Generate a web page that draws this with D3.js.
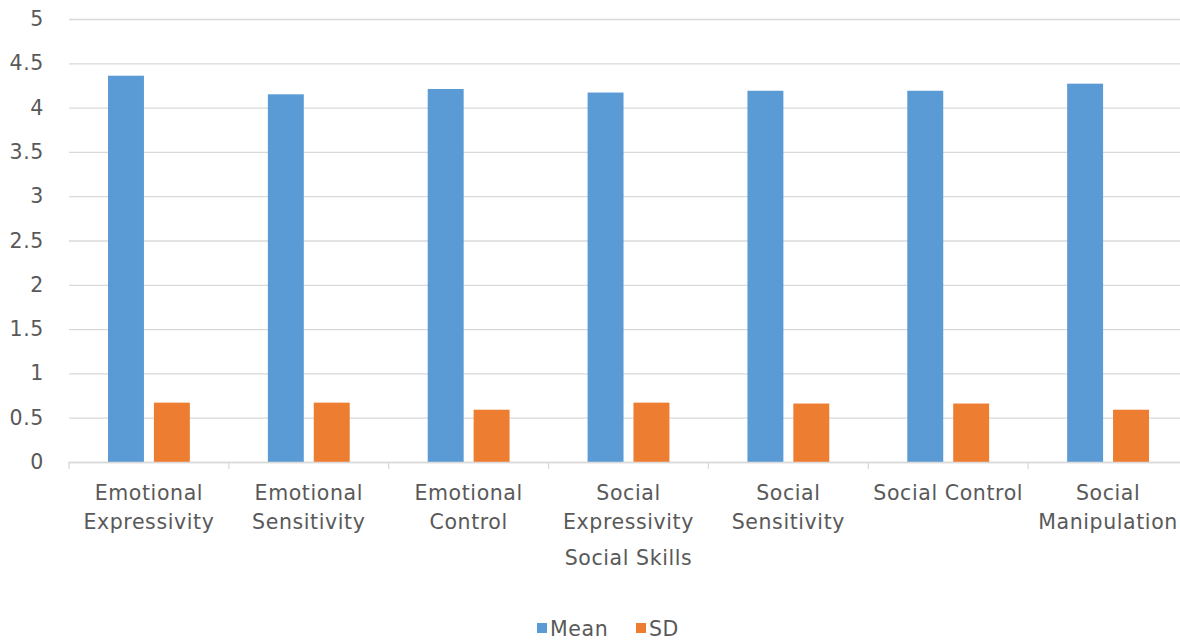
<!DOCTYPE html>
<html>
<head>
<meta charset="utf-8">
<script src="https://cdn.jsdelivr.net/npm/d3@7"></script>
<style>
  body { margin: 0; background: #fff; }
  svg text { font-family: "DejaVu Sans", Verdana, sans-serif; fill: #595959; letter-spacing: 0.6px; }
</style>
</head>
<body>
<svg id="chart"></svg>
<script>
// data
const categories = [
	["Emotional", "Expressivity"],
	["Emotional", "Sensitivity"],
	["Emotional", "Control"],
	["Social", "Expressivity"],
	["Social", "Sensitivity"],
	["Social Control"],
	["Social", "Manipulation"],
];
const meanValues = [4.36, 4.15, 4.21, 4.17, 4.19, 4.19, 4.27];
const sdValues = [0.67, 0.67, 0.59, 0.67, 0.66, 0.66, 0.59];
const seriesNames = ["Mean", "SD"];
const yTicks = [0, 0.5, 1, 1.5, 2, 2.5, 3, 3.5, 4, 4.5, 5];
const xTitle = "Social Skills";

const width = 1180;
const height = 641;
const colors = ["#5b9bd5", "#ed7d31"];
const fontSize = 20.5;

const svg = d3.select("#chart")
              .attr("width", width)
              .attr("height", height);

const plotLeft = 69;
const plotRight = 1188;
const plotTop = 19;
const plotBottom = 462;

const X = d3.range(categories.length);
const Z = d3.range(seriesNames.length);
const values = [meanValues, sdValues];

const xScale = d3.scaleBand(X, [plotLeft, plotRight]).paddingInner(0).paddingOuter(0);
const xzScale = d3.scaleBand(Z, [0, xScale.bandwidth()]).paddingInner(0.217).paddingOuter(0.85);
const yScale = d3.scaleLinear([0, 5], [plotBottom, plotTop]);

// gridlines + y labels
const yAxis = d3.axisLeft(yScale).tickValues(yTicks).tickFormat(d3.format("")).tickSize(0).tickPadding(25);
svg.append("g")
   .attr("transform", `translate(${plotLeft}, 0)`)
   .call(yAxis)
   .call(g => g.select(".domain").remove())
   .call(g => g.selectAll(".tick text")
               .attr("font-size", fontSize)
               .style("font-family", null)
               .attr("fill", null))
   .call(g => g.selectAll(".tick line").clone()
               .attr("x2", plotRight - plotLeft)
               .attr("stroke", "#d9d9d9")
               .attr("stroke-width", 1.3));

// bars
for (const z of Z) {
	svg.append("g")
	   .selectAll("rect")
	   .data(X)
	   .join("rect")
	   .attr("x", i => xScale(i) + xzScale(z))
	   .attr("y", i => yScale(values[z][i]))
	   .attr("width", xzScale.bandwidth())
	   .attr("height", i => yScale(0) - yScale(values[z][i]))
	   .attr("fill", colors[z]);
}

// x axis line with ticks at category boundaries
const xg = svg.append("g");
xg.append("line")
  .attr("x1", plotLeft).attr("x2", plotRight)
  .attr("y1", plotBottom + 0.5).attr("y2", plotBottom + 0.5)
  .attr("stroke", "#d9d9d9").attr("stroke-width", 1.3);
xg.selectAll("line.tk")
  .data(d3.range(categories.length + 1))
  .join("line")
  .attr("class", "tk")
  .attr("x1", i => plotLeft + i * xScale.bandwidth())
  .attr("x2", i => plotLeft + i * xScale.bandwidth())
  .attr("y1", plotBottom)
  .attr("y2", plotBottom + 7)
  .attr("stroke", "#d9d9d9").attr("stroke-width", 1.3);

xg.selectAll("text.cat")
  .data(X)
  .join("text")
  .attr("class", "cat")
  .attr("text-anchor", "middle")
  .attr("font-size", fontSize)
  .attr("x", i => xScale(i) + xScale.bandwidth() / 2)
  .attr("y", 500)
  .selectAll("tspan")
  .data(i => categories[i])
  .join("tspan")
  .attr("x", function() { return d3.select(this.parentNode).attr("x"); })
  .attr("dy", (d, j) => j ? 29 : 0)
  .text(d => d);

svg.append("text")
   .attr("x", 628.5)
   .attr("y", 565)
   .attr("text-anchor", "middle")
   .attr("font-size", fontSize)
   .text(xTitle);

// legend
const legend = svg.append("g").attr("transform", "translate(537, 636)");
const legendX = [0, 99];
for (const z of Z) {
	const g = legend.append("g").attr("transform", `translate(${legendX[z]}, 0)`);
	g.append("rect").attr("x", 0).attr("y", -13).attr("width", 10).attr("height", 10).attr("fill", colors[z]);
	g.append("text").attr("x", 13).attr("y", 0).attr("font-size", fontSize).text(seriesNames[z]);
}
</script>
</body>
</html>
